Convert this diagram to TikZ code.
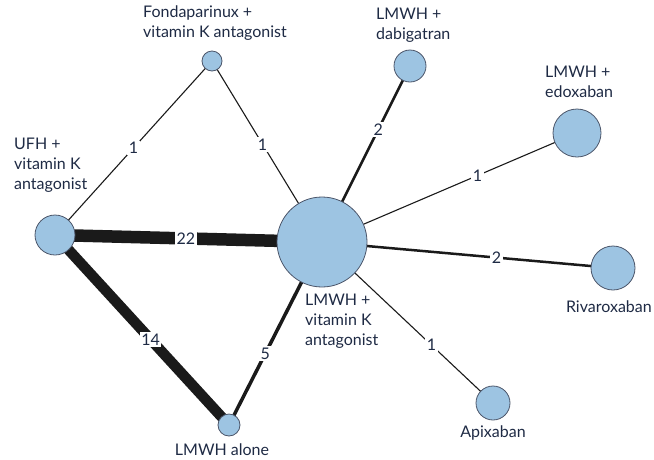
\documentclass[tikz,border=0pt]{standalone}
\usepackage{fontspec}
\setmainfont{Lato}
\usetikzlibrary{backgrounds}
\definecolor{nodeblue}{HTML}{9DC4E2}
\definecolor{txt}{HTML}{1E2A44}
\definecolor{edge}{HTML}{1A1A1A}
\tikzset{
  trt/.style={circle, draw=txt!80, line width=0.8pt, fill=nodeblue, inner sep=0pt, minimum size=#1},
  lab/.style={text=txt, font=\fontsize{16}{20}\selectfont, inner sep=0pt, align=left},
  num/.style={fill=white, text=txt, font=\fontsize{16}{18}\selectfont, inner sep=1.5pt},
  link/.style={draw=edge, line width=#1}
}
\begin{document}
\begin{tikzpicture}[x=1pt,y=-1pt]
\useasboundingbox (0,0) rectangle (654,459);
% treatment nodes
\node[trt=20pt] (fon) at (212,61) {};
\node[trt=32pt] (dab) at (410,66) {};
\node[trt=48pt] (edo) at (577,133) {};
\node[trt=40pt] (ufh) at (55,235) {};
\node[trt=90pt] (vka) at (322,242) {};
\node[trt=44pt] (riv) at (613,268) {};
\node[trt=34pt] (api) at (493,403) {};
\node[trt=22pt] (alo) at (229,425) {};
% connectors
\begin{scope}[on background layer]
\draw[link=1.1pt] (fon.center) -- node[num,pos=0.5]{1} (ufh.center);
\draw[link=1.1pt] (fon.center) -- node[num,pos=0.46]{1} (vka.center);
\draw[link=2.5pt] (dab.center) -- node[num,pos=0.36]{2} (vka.center);
\draw[link=1.1pt] (edo.center) -- node[num,pos=0.39]{1} (vka.center);
\draw[link=12.5pt] (ufh.center) -- node[num,pos=0.49]{22} (vka.center);
\draw[link=2.5pt] (vka.center) -- node[num,pos=0.6]{2} (riv.center);
\draw[link=1.1pt] (vka.center) -- node[num,pos=0.64]{1} (api.center);
\draw[link=10.5pt] (ufh.center) -- node[num,pos=0.55]{14} (alo.center);
\draw[link=3.5pt] (alo.center) -- node[num,pos=0.39]{5} (vka.center);
\end{scope}
% labels
\node[lab, anchor=north west] (lfon) at (143,6) {Fondaparinux +\\vitamin K antagonist};
\node[lab, anchor=north west] (ldab) at (376,8) {LMWH +\\dabigatran};
\node[lab, anchor=north west] (ledo) at (545,66) {LMWH +\\edoxaban};
\node[lab, anchor=north west] (lufh) at (14,138) {UFH +\\vitamin K\\antagonist};
\node[lab, anchor=north west] (lvka) at (305,294) {LMWH +\\vitamin K\\antagonist};
\node[lab, anchor=base east] (lriv) at (652,312) {Rivaroxaban};
\node[lab, anchor=base] (lapi) at (493,437) {Apixaban};
\node[lab, anchor=base] (lalo) at (222,455) {LMWH alone};
\end{tikzpicture}
\end{document}
